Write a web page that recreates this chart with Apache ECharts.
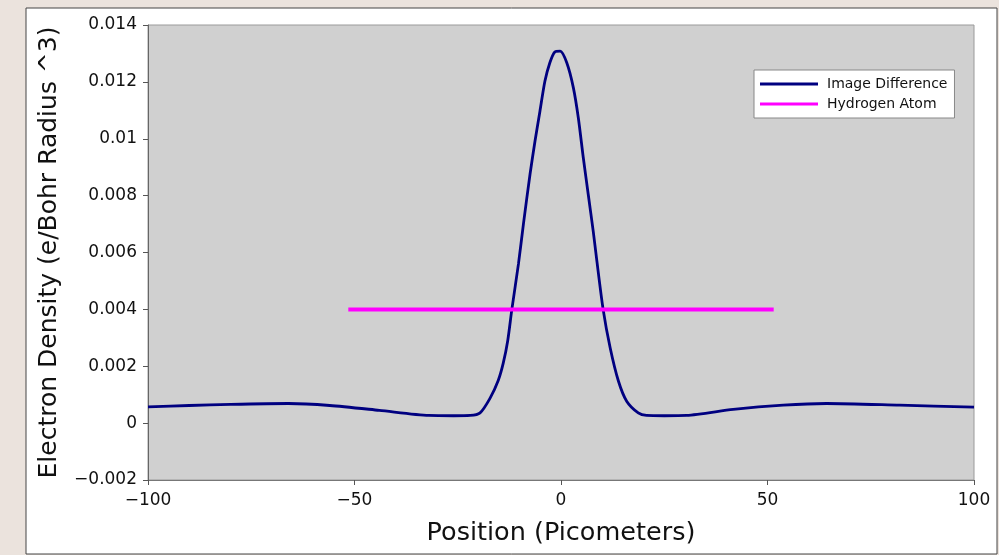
<!DOCTYPE html>
<html>
<head>
<meta charset="utf-8">
<title>Electron Density</title>
<script src="https://cdn.jsdelivr.net/npm/echarts@6/dist/echarts.min.js"></script>
<style>
  html, body { margin: 0; padding: 0; background: #ebe3dd; }
  #chart { width: 999px; height: 555px; }
</style>
</head>
<body>
<div id="chart"></div>
<script>
// position (pm) and density
const positions = [-100, -90, -80, -66, -56, -44, -32, -26, -22, -19.6, -17.2, -15.2, -14.0, -12.9, -11.9,
  -10.3, -9.1, -7.5, -6.3, -5.1, -3.9, -2.7, -1.5, -0.2, 1.4, 3.0, 4.2, 5.4, 6.6, 7.8, 8.6,
  10.2, 11.9, 13.9, 15.9, 18.7, 20.7, 25, 30.4, 41.7, 53.8, 64.3, 82, 100];
const density = [0.00057, 0.00062, 0.00066, 0.00069, 0.00062, 0.00045, 0.00027, 0.00026, 0.00027, 0.00036,
  0.00087, 0.0015, 0.0021, 0.0029, 0.004, 0.0056, 0.0070, 0.00875, 0.00991, 0.01097, 0.01202, 0.01267,
  0.01305, 0.01308, 0.01267, 0.01179, 0.01073, 0.00933, 0.00804, 0.00675, 0.0058, 0.004, 0.00265,
  0.00148, 0.00077, 0.00036, 0.00027, 0.00026, 0.00027, 0.00048, 0.00063, 0.00069, 0.00063, 0.00056];

// hydrogen atom reference line
const hydrogenX = [-51.5, 51.5];
const hydrogenY = [0.004, 0.004];

const seriesNames = ['Image Difference', 'Hydrogen Atom'];

var chart = echarts.init(document.getElementById('chart'));

function minus(v) {
  return String(v).replace('-', '\u2212');
}

var option = {
  backgroundColor: 'transparent',
  textStyle: { fontFamily: 'DejaVu Sans' },
  graphic: [
    {
      type: 'rect',
      z: -10,
      shape: { x: 26, y: 8, width: 971, height: 546 },
      style: { fill: '#ffffff', stroke: '#444', lineWidth: 1 }
    }
  ],
  grid: {
    left: 148,
    right: 25,
    top: 25,
    bottom: 75,
    show: true,
    backgroundColor: '#d0d0d0',
    borderColor: '#9a9a9a',
    borderWidth: 1
  },
  legend: {
    orient: 'vertical',
    left: 754,
    top: 70,
    padding: [7, 7, 7, 6],
    itemGap: 6,
    itemWidth: 58,
    itemHeight: 3,
    icon: 'rect',
    backgroundColor: '#ffffff',
    borderColor: '#888',
    borderWidth: 1,
    textStyle: { fontSize: 14, color: '#111', fontFamily: 'DejaVu Sans', padding: [0, 0, 0, 4] },
    data: seriesNames
  },
  xAxis: {
    type: 'value',
    min: -100,
    max: 100,
    interval: 50,
    name: 'Position (Picometers)',
    nameLocation: 'middle',
    nameGap: 40,
    nameTextStyle: { fontSize: 25.5, color: '#111' },
    axisLine: { onZero: false, lineStyle: { color: '#777' } },
    axisTick: { length: 5, lineStyle: { color: '#555' } },
    axisLabel: { fontSize: 17, color: '#111', margin: 12, formatter: minus },
    splitLine: { show: false }
  },
  yAxis: {
    type: 'value',
    min: -0.002,
    max: 0.014,
    interval: 0.002,
    name: 'Electron Density (e/Bohr Radius ^3)',
    nameLocation: 'middle',
    nameGap: 86,
    nameTextStyle: { fontSize: 25, color: '#111' },
    axisLine: { show: true, onZero: false, lineStyle: { color: '#666' } },
    axisTick: { show: true, length: 5, lineStyle: { color: '#555' } },
    axisLabel: { fontSize: 17, color: '#111', margin: 11, formatter: minus },
    splitLine: { show: false }
  },
  series: [
    {
      name: seriesNames[0],
      type: 'line',
      smooth: 0.25,
      symbol: 'none',
      color: '#000080',
      lineStyle: { width: 2.8, color: '#000080' },
      data: positions.map(function (x, i) { return [x, density[i]]; })
    },
    {
      name: seriesNames[1],
      type: 'line',
      symbol: 'none',
      color: '#ff00ff',
      lineStyle: { width: 4, color: '#ff00ff' },
      data: hydrogenX.map(function (x, i) { return [x, hydrogenY[i]]; })
    }
  ]
};

option && chart.setOption(option);
</script>
</body>
</html>
